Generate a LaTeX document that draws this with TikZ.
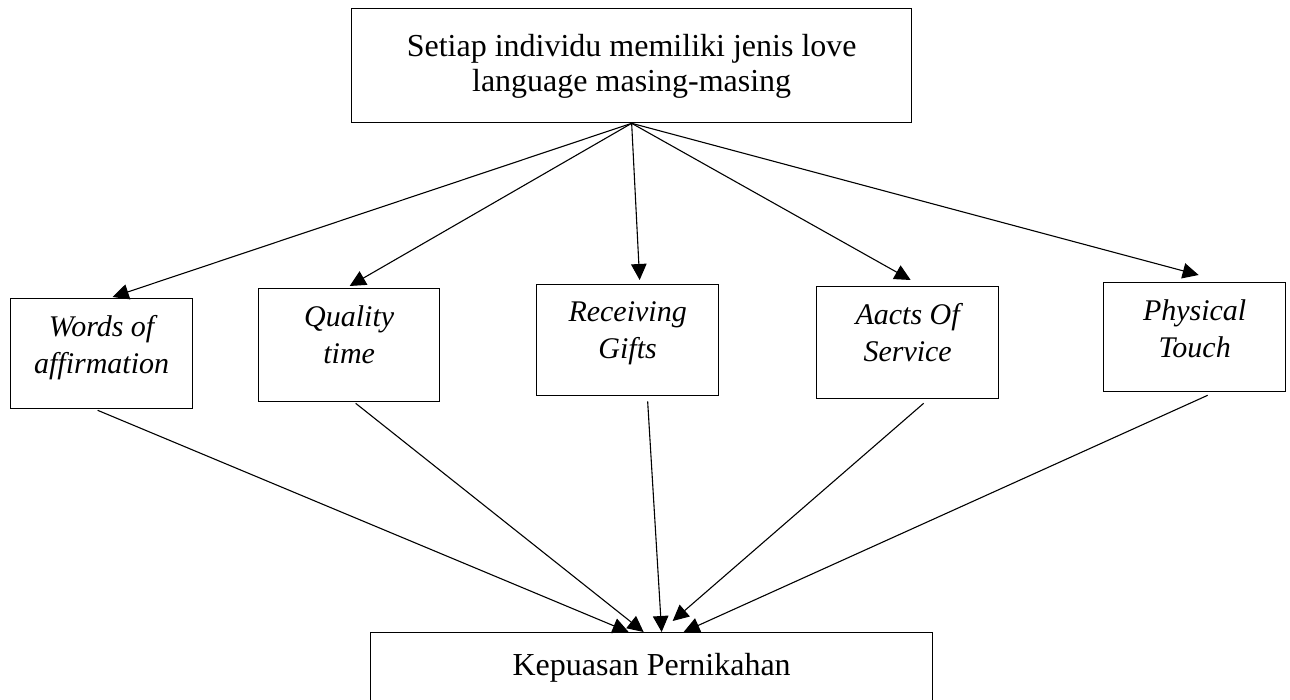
\documentclass[tikz,border=0pt]{standalone}
\usepackage{fontspec}
\setmainfont{Liberation Serif}
\usetikzlibrary{arrows.meta,calc}
\begin{document}
\begin{tikzpicture}[x=1pt,y=-1pt,
  box/.style={draw, line width=1.3pt, inner sep=0pt, anchor=north west},
  lbl/.style={inner sep=0pt, align=center, anchor=north, font=\fontsize{30}{36.5}\selectfont\itshape},
  mainlbl/.style={inner sep=0pt, align=center, anchor=north, font=\fontsize{32}{35.5}\selectfont},
  conn/.style={line width=1.1pt, -{Triangle[length=16pt,width=15.5pt]}}]
\useasboundingbox (0,0) rectangle (1290,699);
\clip (0,0) rectangle (1290,699);
\fill[white] (0,0) rectangle (1290,699);
% boxes
\node[box, minimum width=560pt, minimum height=114pt] (top) at (351,8) {};
\node[mainlbl] (toptext) at ($(top.north)+(0,26)$) {Setiap individu memiliki jenis love\\language masing-masing};
\node[box, minimum width=182pt, minimum height=110pt] (w) at (10,298) {};
\node[box, minimum width=181pt, minimum height=113pt] (q) at (258,288) {};
\node[box, minimum width=182pt, minimum height=111pt] (r) at (536,284) {};
\node[box, minimum width=182pt, minimum height=112pt] (a) at (816,286) {};
\node[box, minimum width=182pt, minimum height=109pt] (p) at (1103,282) {};
\node[lbl] (wt) at ($(w.north)+(0,17.5)$) {Words of\\affirmation};
\node[lbl] (qt) at ($(q.north)+(0,17.5)$) {Quality\\time};
\node[lbl] (rt) at ($(r.north)+(0,17.5)$) {Receiving\\Gifts};
\node[lbl] (at) at ($(a.north)+(0,17.5)$) {Aacts Of\\Service};
\node[lbl] (pt) at ($(p.north)+(0,17.5)$) {Physical\\Touch};
\node[box, minimum width=562pt, minimum height=120pt] (bot) at (370,632) {};
\node[mainlbl] (bottext) at ($(bot.north)+(0,21.5)$) {Kepuasan Pernikahan};
% top arrows
\draw[conn] (top.south) -- ([xshift=11pt,yshift=1pt]w.north);
\draw[conn] (top.south) -- ([xshift=0.5pt,yshift=2pt]q.north);
\draw[conn] (top.south) -- ([xshift=12pt,yshift=4pt]r.north);
\draw[conn] (top.south) -- ([xshift=3pt,yshift=6pt]a.north);
\draw[conn] (top.south) -- ([xshift=4pt,yshift=7pt]p.north);
% bottom arrows
\draw[conn] ([xshift=-4pt,yshift=-1pt]w.south) -- ([xshift=-23pt]bot.north);
\draw[conn] ([xshift=6.5pt,yshift=-1pt]q.south) -- ([xshift=-8pt]bot.north);
\draw[conn] ([xshift=20pt,yshift=-5pt]r.south) -- ([xshift=10pt]bot.north);
\draw[conn] ([xshift=16pt,yshift=-4pt]a.south) -- ([xshift=21pt,yshift=11pt]bot.north);
\draw[conn] ([xshift=13pt,yshift=-3pt]p.south) -- ([xshift=32pt]bot.north);
\end{tikzpicture}
\end{document}
